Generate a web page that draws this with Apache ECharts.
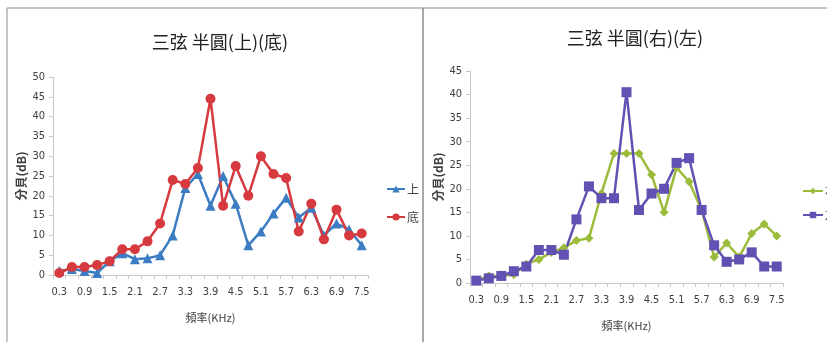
<!DOCTYPE html>
<html>
<head>
<meta charset="utf-8">
<script src="https://cdn.jsdelivr.net/npm/echarts@6/dist/echarts.min.js"></script>
<style>
html,body{margin:0;padding:0;background:#fff;}
#c{width:827px;height:342px;}
</style>
</head>
<body>
<div id="c"></div>
<script>
// Frequencies (KHz), 0.3 to 7.5 in 0.3 steps
const freqs = ['0.3','0.6','0.9','1.2','1.5','1.8','2.1','2.4','2.7','3.0','3.3','3.6','3.9','4.2','4.5','4.8','5.1','5.4','5.7','6.0','6.3','6.6','6.9','7.2','7.5'];

// Left panel: 三弦 半圓 上 / 底 (dB)
const topVals    = [1, 1.5, 1, 0.5, 3.5, 5.5, 4, 4.2, 5, 10, 22, 25.5, 17.5, 25, 18, 7.5, 11, 15.5, 19.5, 14.5, 17, 10, 13, 11.5, 7.5];
const bottomVals = [0.5, 2, 2, 2.5, 3.5, 6.5, 6.5, 8.5, 13, 24, 23, 27, 44.5, 17.5, 27.5, 20, 30, 25.5, 24.5, 11, 18, 9, 16.5, 10, 10.5];

// Right panel: 三弦 半圓 右 / 左 (dB)
const rightVals = [0.5, 1.5, 1.5, 1.8, 4, 5, 6.5, 7.5, 9, 9.5, 19, 27.5, 27.5, 27.5, 23, 15, 24.5, 21.5, 15.5, 5.5, 8.5, 5.5, 10.5, 12.5, 10];
const leftVals  = [0.5, 1, 1.5, 2.5, 3.5, 7, 7, 6, 13.5, 20.5, 18, 18, 40.5, 15.5, 19, 20, 25.5, 26.5, 15.5, 8, 4.5, 5, 6.5, 3.5, 3.5];

const leftMax = 50, rightMax = 45;

const numFont = '"Liberation Sans Narrow","DejaVu Sans Condensed","Liberation Sans",sans-serif';
const cjkFont = '"Noto Sans CJK TC","Noto Sans CJK SC",sans-serif';

function xAxis(gridIndex) {
  return {
    type: 'category', gridIndex, data: freqs, boundaryGap: true,
    axisLine: {lineStyle: {color: '#c8c8c8', width: 1}},
    axisTick: {show: true, interval: 0, length: 4, lineStyle: {color: '#c8c8c8'}},
    axisLabel: {interval: 1, color: '#404040', fontFamily: numFont, fontSize: 11, margin: 12},
    name: '頻率(KHz)', nameLocation: 'middle', nameGap: 37,
    nameTextStyle: {color: '#404040', fontFamily: cjkFont, fontSize: 11}
  };
}
function yAxis(gridIndex, max) {
  return {
    type: 'value', gridIndex, min: 0, max, interval: 5,
    axisLine: {show: true, lineStyle: {color: '#c8c8c8'}},
    axisTick: {show: true, length: 4, lineStyle: {color: '#c8c8c8'}},
    splitLine: {show: false},
    axisLabel: {color: '#404040', fontFamily: numFont, fontSize: 11, margin: 8},
    name: '分貝(dB)', nameLocation: 'middle', nameGap: 26,
    nameTextStyle: {color: '#404040', fontFamily: cjkFont, fontSize: 12, fontWeight: 'bold'}
  };
}
function line(name, data, color, symbol, size, idx) {
  return {
    type: 'line', name, data, xAxisIndex: idx, yAxisIndex: idx,
    symbol, symbolSize: size, showAllSymbol: true,
    lineStyle: {color, width: 2.5}, itemStyle: {color},
    emphasis: {disabled: true}, animation: false
  };
}

const chart = echarts.init(document.getElementById('c'), null, {renderer: 'canvas'});
chart.setOption({
  animation: false,
  backgroundColor: '#fff',
  graphic: [
    {type: 'rect', shape: {x: 7, y: 8, width: 416, height: 340}, style: {fill: 'none', stroke: '#8c8c8c', lineWidth: 1}, silent: true},
    {type: 'rect', shape: {x: 423, y: 8, width: 420, height: 340}, style: {fill: 'none', stroke: '#8c8c8c', lineWidth: 1}, silent: true}
  ],
  title: [
    {text: '三弦 半圓(上)(底)', left: 215, top: 28, textAlign: 'center',
     textStyle: {fontFamily: cjkFont, fontSize: 18, fontWeight: 'normal', color: '#222'}},
    {text: '三弦 半圓(右)(左)', left: 630, top: 24, textAlign: 'center',
     textStyle: {fontFamily: cjkFont, fontSize: 18, fontWeight: 'normal', color: '#222'}}
  ],
  legend: [
    {data: ['上', '底'], orient: 'vertical', left: 381, top: 178, itemGap: 16, itemWidth: 18, itemHeight: 9,
     textStyle: {fontFamily: cjkFont, fontSize: 12, color: '#404040', padding: [0, 0, 0, -3]}},
    {data: ['右', '左'], orient: 'vertical', left: 797, top: 180, itemGap: 12, itemWidth: 20, itemHeight: 8,
     textStyle: {fontFamily: cjkFont, fontSize: 12, color: '#404040', padding: [0, 0, 0, -3]}}
  ],
  grid: [
    {left: 53, top: 77, width: 315, height: 198},
    {left: 470, top: 71, width: 313, height: 212}
  ],
  xAxis: [xAxis(0), xAxis(1)],
  yAxis: [yAxis(0, leftMax), yAxis(1, rightMax)],
  series: [
    line('上', topVals, '#3b7cc2', 'triangle', 10, 0),
    line('底', bottomVals, '#d63a3f', 'circle', 10, 0),
    line('右', rightVals, '#9bbb3b', 'diamond', 9, 1),
    line('左', leftVals, '#6251b3', 'rect', 10, 1)
  ]
});
</script>
</body>
</html>
